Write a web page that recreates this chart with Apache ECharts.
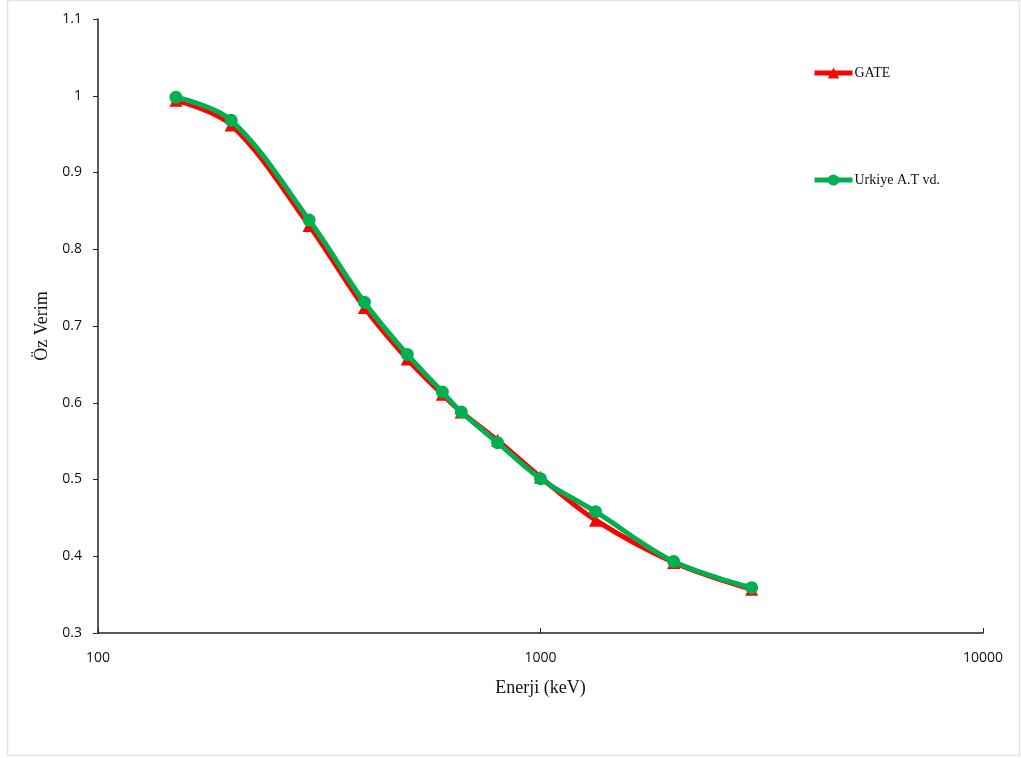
<!DOCTYPE html>
<html>
<head>
<meta charset="utf-8">
<script src="https://cdn.jsdelivr.net/npm/echarts@6/dist/echarts.min.js"></script>
<style>
  html, body { margin: 0; padding: 0; background: #fff; }
  #chart { width: 1021px; height: 758px; }
</style>
</head>
<body>
<div id="chart"></div>
<script>
// Photon energies (keV) and intrinsic efficiency values
const energies = [150, 200, 300, 400, 500, 600, 662, 800, 1000, 1332, 2000, 3000];
const gateEff   = [0.994, 0.962, 0.831, 0.724, 0.657, 0.611, 0.588, 0.551, 0.503, 0.447, 0.392, 0.357];
const urkiyeEff = [0.998, 0.968, 0.838, 0.731, 0.663, 0.614, 0.588, 0.548, 0.501, 0.458, 0.393, 0.359];
const seriesNames = ['GATE', 'Urkiye A.T vd.'];
const xTicks = [100, 1000, 10000];

const pairs = (xs, ys) => xs.map((x, i) => [x, ys[i]]);

const chart = echarts.init(document.getElementById('chart'));
const serif = 'Liberation Serif';
const sans = 'Open Sans';

const legendBase = {
  left: 812,
  padding: 0,
  itemWidth: 38, itemHeight: 14,
  itemGap: 2,
  lineStyle: { width: 5 },
  textStyle: { fontFamily: serif, fontSize: 14, color: '#111', padding: [0, 0, 0, -3] }
};

chart.setOption({
  animation: false,
  backgroundColor: '#fff',
  graphic: [{
    type: 'rect',
    shape: { x: 7.5, y: 0.5, width: 1012, height: 755 },
    style: { fill: 'none', stroke: '#e4e4e4', lineWidth: 1.5 },
    silent: true
  }],
  grid: { left: 98, top: 19, width: 885, height: 614 },
  legend: [
    Object.assign({ data: [seriesNames[0]], top: 66 }, legendBase),
    Object.assign({ data: [seriesNames[1]], top: 173 }, legendBase)
  ],
  xAxis: {
    type: 'log',
    logBase: 10,
    min: xTicks[0],
    max: xTicks[xTicks.length - 1],
    name: 'Enerji (keV)',
    nameLocation: 'middle',
    nameGap: 46,
    nameTextStyle: { fontFamily: serif, fontSize: 18, color: '#111' },
    axisLine: { lineStyle: { color: '#222', width: 1.5 } },
    axisTick: { show: true, inside: true, length: 5, lineStyle: { color: '#222' } },
    minorTick: { show: false },
    splitLine: { show: false },
    axisLabel: { fontFamily: sans, fontSize: 14, color: '#111', margin: 18,
      formatter: v => String(Math.round(v)) }
  },
  yAxis: {
    type: 'value',
    min: 0.3, max: 1.1, interval: 0.1,
    name: 'Öz Verim',
    nameLocation: 'middle',
    nameGap: 47,
    nameTextStyle: { fontFamily: serif, fontSize: 18, color: '#111' },
    axisLine: { show: true, lineStyle: { color: '#222', width: 1.5 } },
    axisTick: { show: true, length: 5, lineStyle: { color: '#222' } },
    splitLine: { show: false },
    axisLabel: { fontFamily: sans, fontSize: 14, color: '#111', margin: 16,
      formatter: v => String(parseFloat(v.toFixed(1))) }
  },
  series: [
    {
      name: seriesNames[0],
      type: 'line',
      smooth: 0.35,
      data: pairs(energies, gateEff),
      symbol: 'triangle',
      symbolSize: 13,
      color: '#ff0000',
      lineStyle: { color: '#ff0000', width: 5 },
      itemStyle: { color: '#ff0000' },
      z: 2
    },
    {
      name: seriesNames[1],
      type: 'line',
      smooth: 0.35,
      data: pairs(energies, urkiyeEff),
      symbol: 'circle',
      symbolSize: 13,
      color: '#00b050',
      lineStyle: { color: '#00b050', width: 5 },
      itemStyle: { color: '#00b050' },
      z: 3
    }
  ]
});
</script>
</body>
</html>
